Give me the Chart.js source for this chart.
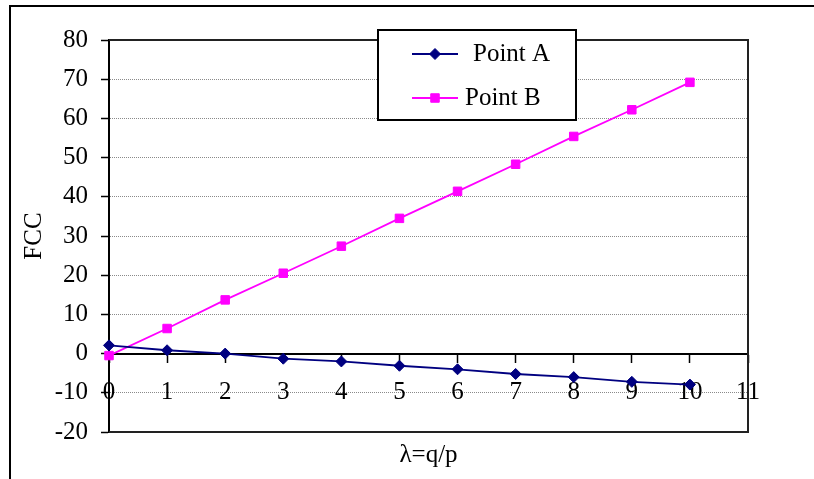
<!DOCTYPE html>
<html>
<head>
<meta charset="utf-8">
<script src="https://cdn.jsdelivr.net/npm/chart.js@4.4.1/dist/chart.umd.min.js"></script>
<style>
html,body{margin:0;padding:0;background:#fff;}
#wrap{position:relative;width:814px;height:479px;}
canvas{display:block;}
</style>
</head>
<body>
<div id="wrap"><canvas id="c" width="814" height="479"></canvas></div>
<script>
// ---- data ----
const lambdaValues = [0, 1, 2, 3, 4, 5, 6, 7, 8, 9, 10];
const pointA = [2.1, 0.85, 0.0, -1.3, -2.0, -3.1, -4.0, -5.2, -6.0, -7.2, -7.9];
const pointB = [-0.5, 6.4, 13.7, 20.5, 27.4, 34.5, 41.4, 48.3, 55.4, 62.2, 69.2];
const seriesNames = ['Point A', 'Point B'];
const xTickRange = [0, 11, 1];
const yTickRange = [-20, 80, 10];
const xTitleText = 'λ=q/p';
const yTitleText = 'FCC';

const FONT = 'Liberation Serif, Times New Roman, serif';
const colorA = '#000080';
const colorB = '#FF00FF';

const toXY = (vals) => lambdaValues.map((x, i) => ({ x: x, y: vals[i] }));

const outerFrame = {
  id: 'outerFrame',
  beforeDraw(chart) {
    const ctx = chart.ctx;
    ctx.save();
    ctx.fillStyle = '#fff';
    ctx.fillRect(0, 0, chart.width, chart.height);
    ctx.strokeStyle = '#000';
    ctx.lineWidth = 2;
    ctx.beginPath();
    ctx.moveTo(10, chart.height);
    ctx.lineTo(10, 6);
    ctx.lineTo(chart.width, 6);
    ctx.stroke();
    ctx.restore();
  }
};

const plotFrame = {
  id: 'plotFrame',
  beforeDatasetsDraw(chart) {
    const a = chart.chartArea;
    const ctx = chart.ctx;
    ctx.save();
    ctx.strokeStyle = '#222';
    ctx.lineWidth = 2;
    ctx.beginPath();
    ctx.moveTo(a.left, a.top);
    ctx.lineTo(a.right, a.top);
    ctx.lineTo(a.right, a.bottom);
    ctx.lineTo(a.left, a.bottom);
    ctx.stroke();
    ctx.restore();
  }
};

const boxLegend = {
  id: 'boxLegend',
  afterDraw(chart) {
    const ctx = chart.ctx;
    const box = { x: 378, y: 30, w: 198, h: 90 };
    const rows = [{ y: 54, tx: 473 }, { y: 98, tx: 465 }];
    ctx.save();
    ctx.fillStyle = '#fff';
    ctx.fillRect(box.x, box.y, box.w, box.h);
    ctx.strokeStyle = '#000';
    ctx.lineWidth = 2;
    ctx.strokeRect(box.x, box.y, box.w, box.h);
    chart.data.datasets.forEach((ds, i) => {
      const r = rows[i];
      ctx.strokeStyle = ds.borderColor;
      ctx.lineWidth = ds.borderWidth;
      ctx.beginPath();
      ctx.moveTo(412, r.y);
      ctx.lineTo(458, r.y);
      ctx.stroke();
      ctx.fillStyle = ds.pointBackgroundColor;
      ctx.strokeStyle = ds.pointBorderColor;
      ctx.lineWidth = 1;
      Chart.helpers.drawPoint(ctx, { pointStyle: ds.pointStyle, radius: ds.pointRadius, borderWidth: 1, rotation: 0 }, 435, r.y);
      ctx.fillStyle = '#000';
      ctx.font = '25px ' + FONT;
      ctx.textAlign = 'left';
      ctx.textBaseline = 'middle';
      ctx.fillText(ds.label, r.tx, r.y);
    });
    ctx.restore();
  }
};

new Chart(document.getElementById('c'), {
  type: 'line',
  data: {
    datasets: [
      {
        label: seriesNames[0],
        data: toXY(pointA),
        borderColor: colorA,
        backgroundColor: colorA,
        pointBackgroundColor: colorA,
        pointBorderColor: colorA,
        borderWidth: 1.8,
        pointStyle: 'rectRot',
        pointRadius: 5.5,
        pointBorderWidth: 1,
        tension: 0,
        fill: false,
        clip: false
      },
      {
        label: seriesNames[1],
        data: toXY(pointB),
        borderColor: colorB,
        backgroundColor: colorB,
        pointBackgroundColor: colorB,
        pointBorderColor: colorB,
        borderWidth: 1.8,
        pointStyle: 'rect',
        pointRadius: 6,
        pointBorderWidth: 1,
        tension: 0,
        fill: false,
        clip: false
      }
    ]
  },
  options: {
    responsive: false,
    animation: false,
    devicePixelRatio: 1,
    layout: { padding: { top: 40, right: 66, left: 0, bottom: 0 } },
    plugins: {
      legend: { display: false },
      tooltip: { enabled: false },
      title: {
        display: true,
        position: 'bottom',
        fullSize: false,
        text: xTitleText,
        color: '#000',
        font: { family: FONT, size: 25, weight: 'normal' },
        padding: { top: 8, bottom: 9 }
      }
    },
    scales: {
      x: {
        type: 'linear',
        position: { y: 0 },
        min: xTickRange[0],
        max: xTickRange[1],
        afterFit(s) { s.height = 0; },
        ticks: {
          stepSize: xTickRange[2],
          autoSkip: false,
          maxRotation: 0,
          color: '#000',
          padding: 16,
          font: { family: FONT, size: 25 },
          callback: (v) => String(v)
        },
        grid: {
          drawOnChartArea: false,
          drawTicks: true,
          tickLength: 8,
          tickColor: '#000',
          tickWidth: 1.5
        },
        border: { display: true, color: '#000', width: 2 }
      },
      y: {
        type: 'linear',
        position: 'left',
        min: yTickRange[0],
        max: yTickRange[1],
        afterFit(s) { s.width = 109; },
        ticks: {
          stepSize: yTickRange[2],
          color: '#000',
          padding: 13,
          font: { family: FONT, size: 25 },
          callback: (v) => String(v)
        },
        grid: {
          color: '#8a8a8a',
          lineWidth: 1,
          drawTicks: true,
          tickLength: 8,
          tickColor: '#000',
          tickWidth: 1.5,
          tickBorderDash: []
        },
        border: { display: true, color: '#000', width: 2, dash: [1, 1] },
        title: {
          display: true,
          text: yTitleText,
          color: '#000',
          font: { family: FONT, size: 25 },
          padding: { top: 19, bottom: 0 }
        }
      }
    }
  },
  plugins: [outerFrame, plotFrame, boxLegend]
});
</script>
</body>
</html>
